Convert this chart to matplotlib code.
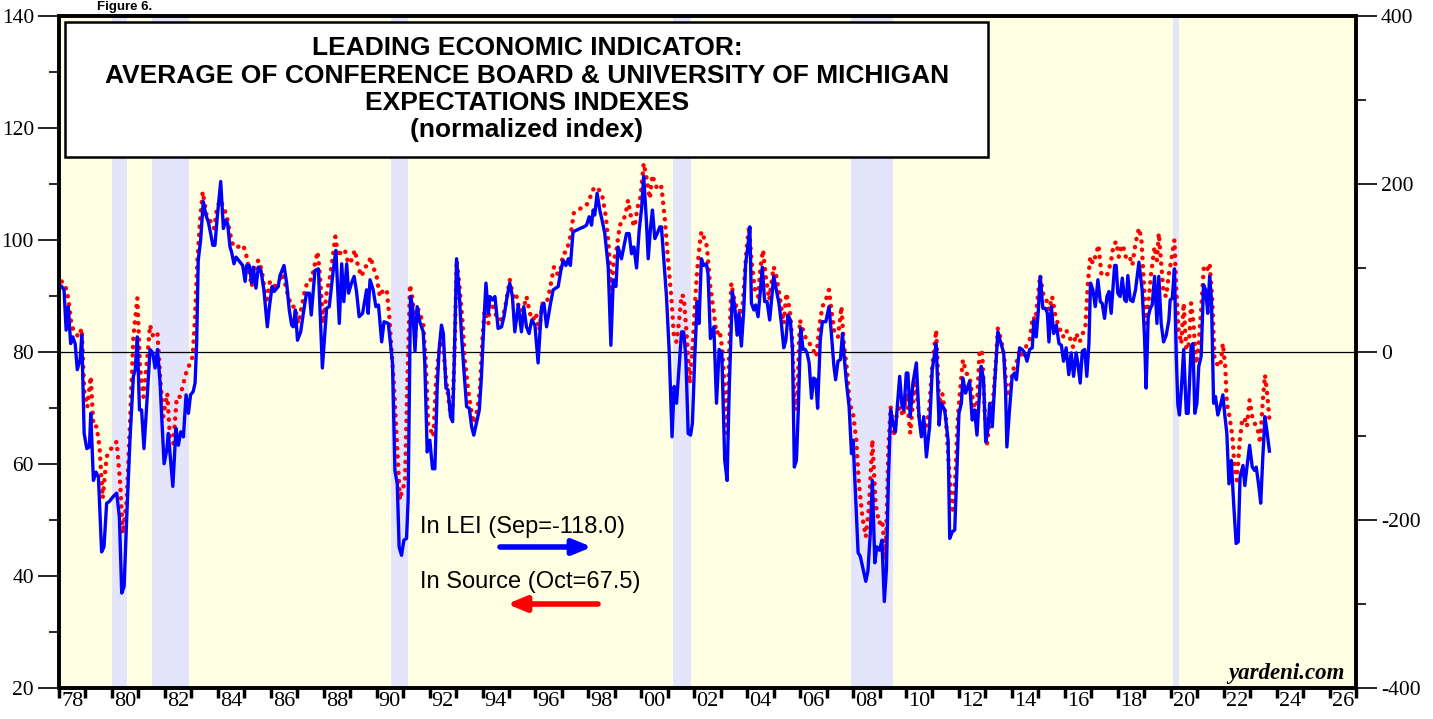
import matplotlib
matplotlib.use("Agg")
import matplotlib.pyplot as plt
from matplotlib.patches import Rectangle
from matplotlib.ticker import FixedLocator, NullFormatter, FixedFormatter, MultipleLocator

plt.rcParams['axes.unicode_minus'] = False

# ---------------- data (decimal years) ----------------
# Source: average of Conference Board & U. Michigan expectations (left axis, normalized index)
red_dates = [1978.1, 1978.23, 1978.35, 1978.48, 1978.57, 1978.73, 1978.86, 1978.95, 1979.07, 1979.2,
             1979.3, 1979.42, 1979.53, 1979.65, 1979.8, 1979.93, 1980.18, 1980.31, 1980.41, 1980.56,
             1980.68, 1980.81, 1980.96, 1981.06, 1981.19, 1981.34, 1981.44, 1981.56, 1981.72, 1981.82,
             1981.94, 1982.09, 1982.19, 1982.32, 1982.45, 1982.57, 1982.67, 1982.8, 1982.95, 1983.05,
             1983.14, 1983.23, 1983.33, 1983.43, 1983.58, 1983.73, 1983.86, 1983.96, 1984.08, 1984.21,
             1984.34, 1984.46, 1984.59, 1984.77, 1984.96, 1985.09, 1985.28, 1985.4, 1985.53, 1985.66,
             1985.84, 1985.97, 1986.1, 1986.22, 1986.41, 1986.54, 1986.66, 1986.79, 1986.91, 1987.04,
             1987.17, 1987.29, 1987.42, 1987.54, 1987.67, 1987.77, 1987.86, 1987.98, 1988.11, 1988.24,
             1988.36, 1988.44, 1988.55, 1988.68, 1988.8, 1988.93, 1989.05, 1989.18, 1989.3, 1989.43,
             1989.56, 1989.68, 1989.77, 1989.87, 1990.0, 1990.12, 1990.25, 1990.38, 1990.48, 1990.56,
             1990.65, 1990.75, 1990.88, 1990.98, 1991.07, 1991.16, 1991.26, 1991.36, 1991.46, 1991.53,
             1991.63, 1991.76, 1991.86, 1991.95, 1992.04, 1992.14, 1992.24, 1992.33, 1992.41, 1992.52,
             1992.64, 1992.77, 1992.87, 1992.96, 1993.02, 1993.12, 1993.25, 1993.33, 1993.46, 1993.59,
             1993.67, 1993.8, 1993.9, 1994.0, 1994.09, 1994.22, 1994.28, 1994.4, 1994.53, 1994.68,
             1994.84, 1995.03, 1995.16, 1995.26, 1995.39, 1995.54, 1995.66, 1995.79, 1995.91, 1996.02,
             1996.14, 1996.27, 1996.42, 1996.54, 1996.7, 1996.82, 1996.92, 1997.05, 1997.17, 1997.32,
             1997.45, 1997.58, 1997.74, 1997.9, 1998.03, 1998.15, 1998.31, 1998.41, 1998.53, 1998.66,
             1998.78, 1998.87, 1998.96, 1999.06, 1999.19, 1999.31, 1999.41, 1999.5, 1999.63, 1999.75,
             1999.85, 1999.97, 2000.09, 2000.19, 2000.32, 2000.42, 2000.51, 2000.63, 2000.76, 2000.89,
             2001.01, 2001.14, 2001.23, 2001.33, 2001.43, 2001.52, 2001.6, 2001.71, 2001.83, 2001.93,
             2002.02, 2002.11, 2002.21, 2002.27, 2002.4, 2002.48, 2002.59, 2002.71, 2002.84, 2002.96,
             2003.06, 2003.15, 2003.24, 2003.32, 2003.4, 2003.49, 2003.59, 2003.69, 2003.78, 2003.87,
             2003.97, 2004.07, 2004.16, 2004.29, 2004.41, 2004.5, 2004.6, 2004.7, 2004.83, 2005.0,
             2005.1, 2005.23, 2005.38, 2005.48, 2005.61, 2005.71, 2005.8, 2005.89, 2005.99, 2006.11,
             2006.24, 2006.36, 2006.49, 2006.61, 2006.74, 2006.84, 2006.97, 2007.09, 2007.18, 2007.3,
             2007.43, 2007.56, 2007.65, 2007.77, 2007.87, 2008.0, 2008.12, 2008.22, 2008.35, 2008.48,
             2008.6, 2008.73, 2008.85, 2008.98, 2009.1, 2009.23, 2009.33, 2009.42, 2009.54, 2009.64,
             2009.76, 2009.89, 2010.01, 2010.16, 2010.26, 2010.36, 2010.49, 2010.62, 2010.74, 2010.87,
             2010.99, 2011.14, 2011.25, 2011.37, 2011.5, 2011.62, 2011.75, 2011.84, 2011.96, 2012.09,
             2012.15, 2012.28, 2012.4, 2012.53, 2012.66, 2012.78, 2012.88, 2012.97, 2013.06, 2013.16,
             2013.28, 2013.39, 2013.47, 2013.6, 2013.72, 2013.81, 2013.91, 2014.04, 2014.17, 2014.29,
             2014.42, 2014.54, 2014.67, 2014.79, 2014.89, 2014.98, 2015.07, 2015.17, 2015.27, 2015.4,
             2015.52, 2015.65, 2015.78, 2015.93, 2016.05, 2016.18, 2016.31, 2016.43, 2016.56, 2016.68,
             2016.78, 2016.87, 2016.96, 2017.06, 2017.19, 2017.27, 2017.38, 2017.5, 2017.63, 2017.75,
             2017.84, 2017.94, 2018.04, 2018.09, 2018.19, 2018.32, 2018.45, 2018.55, 2018.67, 2018.8,
             2018.89, 2018.97, 2019.07, 2019.18, 2019.26, 2019.39, 2019.48, 2019.55, 2019.64, 2019.73,
             2019.83, 2019.93, 2019.98, 2020.14, 2020.21, 2020.3, 2020.4, 2020.49, 2020.59, 2020.69,
             2020.77, 2020.86, 2020.96, 2021.06, 2021.15, 2021.25, 2021.37, 2021.47, 2021.57, 2021.65,
             2021.74, 2021.87, 2021.97, 2022.06, 2022.12, 2022.22, 2022.33, 2022.41, 2022.5, 2022.6,
             2022.7, 2022.79, 2022.88, 2022.98, 2023.08, 2023.17, 2023.29, 2023.38, 2023.48, 2023.56,
             2023.63, 2023.73, 2023.81]
red_values = [92.6, 92.0, 89.6, 84.5, 83.9, 82.7, 84.2, 73.2, 70.2, 75.6,
              66.7, 66.7, 63.1, 53.9, 61.3, 62.5, 64.0, 56.6, 47.6, 53.6,
              67.3, 82.7, 89.6, 77.4, 72.0, 79.2, 84.8, 82.7, 83.3, 75.6,
              68.5, 72.6, 64.9, 63.7, 72.0, 72.0, 73.8, 76.2, 78.0, 79.2,
              86.3, 96.4, 103.6, 108.6, 104.2, 103.3, 102.1, 105.4, 107.1, 106.0,
              104.2, 101.2, 98.8, 98.8, 99.1, 97.0, 91.7, 95.0, 96.4, 94.6,
              88.7, 92.6, 92.3, 91.1, 94.0, 92.3, 89.9, 88.1, 88.1, 85.1,
              88.1, 91.1, 92.9, 92.9, 95.8, 97.9, 93.5, 85.1, 90.5, 93.5,
              97.6, 100.6, 97.0, 98.2, 98.2, 95.8, 96.4, 98.2, 95.2, 93.5,
              95.2, 95.5, 97.0, 95.2, 93.5, 89.9, 91.1, 91.1, 86.3, 80.4,
              74.4, 65.5, 53.6, 55.7, 56.5, 74.4, 92.0, 89.3, 82.7, 88.1,
              86.9, 85.1, 77.9, 66.7, 66.1, 64.9, 74.4, 79.2, 82.1, 80.4,
              74.4, 69.6, 69.6, 82.7, 96.4, 92.3, 85.1, 78.6, 73.2, 69.0,
              67.3, 69.6, 73.2, 82.7, 88.1, 85.1, 88.7, 88.1, 86.3, 85.7,
              87.5, 92.9, 89.9, 90.5, 87.5, 87.5, 89.9, 86.9, 85.7, 86.9,
              83.9, 88.7, 88.7, 91.1, 95.2, 94.0, 94.0, 97.6, 97.9, 100.6,
              104.8, 105.4, 105.7, 106.0, 107.1, 108.9, 109.5, 108.9, 107.7, 104.2,
              98.2, 89.9, 96.4, 98.2, 102.7, 103.3, 104.8, 107.1, 103.6, 102.4,
              105.7, 107.7, 113.7, 111.3, 107.4, 111.6, 110.1, 108.9, 109.5, 103.6,
              96.4, 89.3, 82.7, 81.8, 85.7, 90.2, 89.9, 83.3, 74.4, 80.4,
              88.1, 94.6, 99.4, 101.5, 100.0, 98.8, 92.3, 88.1, 83.3, 83.9,
              80.4, 73.2, 65.5, 79.8, 92.3, 89.9, 88.1, 88.1, 85.1, 91.1,
              98.2, 102.4, 96.4, 91.1, 89.9, 95.2, 98.2, 93.5, 89.3, 95.2,
              93.5, 89.9, 85.1, 90.5, 87.5, 81.5, 69.6, 72.0, 85.7, 83.9,
              82.1, 81.5, 80.4, 79.2, 85.1, 88.1, 89.3, 91.1, 87.5, 83.3,
              82.7, 88.1, 81.5, 76.8, 70.8, 69.0, 64.3, 56.5, 50.6, 47.0,
              52.4, 64.3, 53.0, 49.4, 50.0, 42.9, 62.5, 70.2, 64.9, 68.5,
              70.2, 68.5, 72.6, 65.5, 70.8, 75.0, 68.5, 64.9, 66.1, 69.6,
              77.4, 83.9, 70.8, 72.6, 68.5, 59.5, 51.2, 55.4, 68.5, 75.6,
              78.6, 76.2, 75.6, 71.4, 68.5, 80.4, 79.8, 69.6, 63.7, 67.3,
              70.8, 78.0, 84.2, 82.1, 78.6, 72.0, 73.2, 76.8, 78.0, 80.4,
              78.9, 81.0, 82.1, 86.3, 85.7, 89.9, 93.7, 90.5, 89.9, 87.5,
              89.9, 86.3, 84.5, 82.7, 83.9, 82.7, 80.9, 83.3, 81.8, 83.3,
              84.8, 92.3, 97.0, 95.8, 97.6, 99.1, 94.0, 93.5, 94.0, 96.4,
              99.1, 99.7, 97.0, 98.2, 99.1, 96.7, 97.0, 95.5, 99.4, 102.1,
              100.3, 93.5, 85.1, 89.9, 94.0, 98.8, 96.4, 101.2, 95.8, 90.5,
              89.9, 94.0, 95.2, 100.0, 91.1, 83.9, 81.5, 88.7, 80.4, 81.5,
              88.7, 85.1, 77.9, 81.5, 87.5, 95.2, 94.6, 95.8, 89.3, 79.2,
              77.9, 77.4, 81.5, 77.4, 70.8, 68.5, 64.9, 59.5, 57.1, 63.7,
              67.9, 68.2, 66.7, 71.4, 68.5, 67.3, 66.1, 63.7, 71.4, 75.9,
              73.2, 67.9, 67.5]

# LEI (right axis)
blue_dates = [1978.1, 1978.19, 1978.27, 1978.35, 1978.44, 1978.52, 1978.61, 1978.69, 1978.8, 1978.86,
              1978.95, 1979.05, 1979.15, 1979.2, 1979.3, 1979.4, 1979.49, 1979.61, 1979.7, 1979.8,
              1979.9, 1980.05, 1980.18, 1980.28, 1980.37, 1980.46, 1980.56, 1980.68, 1980.81, 1980.88,
              1980.96, 1981.04, 1981.12, 1981.21, 1981.31, 1981.44, 1981.54, 1981.63, 1981.72, 1981.82,
              1981.88, 1981.97, 1982.07, 1982.13, 1982.3, 1982.42, 1982.51, 1982.6, 1982.7, 1982.8,
              1982.89, 1982.97, 1983.07, 1983.14, 1983.2, 1983.26, 1983.35, 1983.45, 1983.55, 1983.64,
              1983.73, 1983.81, 1983.89, 1983.98, 1984.11, 1984.21, 1984.3, 1984.37, 1984.46, 1984.52,
              1984.61, 1984.69, 1984.84, 1984.94, 1985.03, 1985.09, 1985.19, 1985.28, 1985.34, 1985.44,
              1985.53, 1985.63, 1985.74, 1985.87, 1985.95, 1986.05, 1986.13, 1986.28, 1986.35, 1986.5,
              1986.6, 1986.7, 1986.79, 1986.85, 1986.93, 1987.01, 1987.13, 1987.23, 1987.35, 1987.46,
              1987.53, 1987.67, 1987.8, 1987.95, 1988.11, 1988.21, 1988.36, 1988.46, 1988.59, 1988.68,
              1988.76, 1988.87, 1988.94, 1989.05, 1989.15, 1989.24, 1989.34, 1989.47, 1989.62, 1989.68,
              1989.75, 1989.87, 1989.97, 1990.07, 1990.19, 1990.28, 1990.44, 1990.53, 1990.6, 1990.69,
              1990.78, 1990.85, 1990.94, 1991.03, 1991.13, 1991.19, 1991.28, 1991.36, 1991.45, 1991.53,
              1991.63, 1991.76, 1991.82, 1991.91, 1992.01, 1992.11, 1992.2, 1992.29, 1992.36, 1992.45,
              1992.52, 1992.62, 1992.7, 1992.79, 1992.87, 1992.93, 1993.02, 1993.12, 1993.21, 1993.3,
              1993.4, 1993.5, 1993.59, 1993.67, 1993.77, 1993.88, 1993.96, 1994.05, 1994.13, 1994.22,
              1994.28, 1994.38, 1994.47, 1994.59, 1994.72, 1994.81, 1994.93, 1995.03, 1995.13, 1995.22,
              1995.35, 1995.47, 1995.56, 1995.66, 1995.76, 1995.86, 1995.98, 1996.1, 1996.23, 1996.32,
              1996.42, 1996.57, 1996.67, 1996.86, 1996.96, 1997.05, 1997.15, 1997.24, 1997.32, 1997.42,
              1997.55, 1997.68, 1997.83, 1997.93, 1998.03, 1998.12, 1998.18, 1998.24, 1998.33, 1998.43,
              1998.53, 1998.62, 1998.75, 1998.85, 1998.94, 1999.04, 1999.12, 1999.25, 1999.34, 1999.44,
              1999.54, 1999.63, 1999.72, 1999.82, 1999.92, 2000.01, 2000.09, 2000.19, 2000.26, 2000.35,
              2000.42, 2000.51, 2000.6, 2000.7, 2000.76, 2000.85, 2000.95, 2001.05, 2001.16, 2001.24,
              2001.33, 2001.43, 2001.52, 2001.6, 2001.68, 2001.77, 2001.86, 2001.93, 2002.02, 2002.11,
              2002.18, 2002.27, 2002.36, 2002.46, 2002.52, 2002.61, 2002.74, 2002.84, 2002.94, 2003.04,
              2003.15, 2003.24, 2003.32, 2003.44, 2003.53, 2003.62, 2003.69, 2003.78, 2003.87, 2003.94,
              2004.03, 2004.1, 2004.16, 2004.25, 2004.32, 2004.41, 2004.5, 2004.57, 2004.66, 2004.75,
              2004.85, 2005.0, 2005.1, 2005.2, 2005.29, 2005.38, 2005.46, 2005.54, 2005.63, 2005.71,
              2005.78, 2005.86, 2005.93, 2006.02, 2006.11, 2006.19, 2006.26, 2006.34, 2006.43, 2006.51,
              2006.59, 2006.66, 2006.76, 2006.84, 2006.97, 2007.09, 2007.18, 2007.27, 2007.34, 2007.43,
              2007.52, 2007.6, 2007.65, 2007.75, 2007.85, 2007.94, 2008.0, 2008.1, 2008.19, 2008.27,
              2008.38, 2008.48, 2008.56, 2008.65, 2008.73, 2008.82, 2008.9, 2009.0, 2009.09, 2009.18,
              2009.26, 2009.33, 2009.42, 2009.51, 2009.6, 2009.67, 2009.76, 2009.85, 2009.92, 2010.01,
              2010.07, 2010.16, 2010.26, 2010.39, 2010.49, 2010.58, 2010.67, 2010.77, 2010.89, 2010.99,
              2011.14, 2011.25, 2011.33, 2011.46, 2011.59, 2011.65, 2011.75, 2011.84, 2012.0, 2012.09,
              2012.15, 2012.25, 2012.4, 2012.5, 2012.59, 2012.68, 2012.84, 2012.93, 2013.01, 2013.1,
              2013.16, 2013.26, 2013.35, 2013.47, 2013.57, 2013.69, 2013.76, 2013.81, 2013.91, 2014.01,
              2014.1, 2014.17, 2014.29, 2014.39, 2014.48, 2014.57, 2014.67, 2014.77, 2014.83, 2014.92,
              2015.0, 2015.07, 2015.17, 2015.27, 2015.34, 2015.4, 2015.49, 2015.58, 2015.68, 2015.78,
              2015.87, 2015.95, 2016.05, 2016.15, 2016.24, 2016.33, 2016.43, 2016.49, 2016.58, 2016.66,
              2016.75, 2016.83, 2016.91, 2016.97, 2017.06, 2017.15, 2017.25, 2017.34, 2017.41, 2017.5,
              2017.59, 2017.67, 2017.75, 2017.88, 2017.94, 2018.0, 2018.09, 2018.17, 2018.26, 2018.32,
              2018.38, 2018.47, 2018.57, 2018.67, 2018.8, 2018.92, 2019.01, 2019.07, 2019.15, 2019.23,
              2019.3, 2019.39, 2019.48, 2019.55, 2019.64, 2019.73, 2019.83, 2019.93, 2019.98, 2020.06,
              2020.14, 2020.21, 2020.27, 2020.33, 2020.4, 2020.49, 2020.59, 2020.66, 2020.77, 2020.84,
              2020.91, 2020.99, 2021.06, 2021.15, 2021.24, 2021.32, 2021.4, 2021.47, 2021.54, 2021.62,
              2021.69, 2021.78, 2021.87, 2021.97, 2022.05, 2022.12, 2022.2, 2022.29, 2022.37, 2022.47,
              2022.55, 2022.62, 2022.73, 2022.8, 2022.88, 2022.98, 2023.08, 2023.17, 2023.23, 2023.33,
              2023.4, 2023.48, 2023.56, 2023.63, 2023.73]
blue_values = [78, 74, 26, 54, 10, 18, 10, -21, -9, 20,
               -97, -115, -113, -73, -153, -143, -149, -238, -232, -180,
               -178, -172, -168, -196, -287, -279, -196, -105, -29, -21,
               18, -69, -69, -115, -65, 3, -1, -19, 3, -37,
               -77, -133, -117, -97, -160, -91, -111, -95, -101, -51,
               -73, -51, -47, -37, 10, 109, 133, 179, 163, 155,
               141, 127, 127, 161, 203, 147, 157, 153, 125, 119,
               105, 113, 107, 103, 84, 103, 103, 82, 101, 76,
               101, 97, 74, 30, 54, 78, 72, 78, 91, 103,
               82, 50, 32, 30, 50, 14, 24, 46, 70, 70,
               44, 97, 99, -19, 52, 54, 97, 121, 34, 105,
               60, 105, 70, 82, 90, 72, 42, 46, 74, 46,
               86, 74, 54, 56, 12, 36, 34, 8, -14, -141,
               -157, -232, -242, -224, -222, -176, 66, 54, 1, 54,
               36, 24, -14, -119, -105, -139, -139, -41, 3, 32,
               22, -43, -45, -77, -83, -14, 111, 70, 18, -23,
               -65, -67, -89, -99, -85, -69, -29, 34, 82, 46,
               66, 62, 66, 28, 30, 42, 66, 82, 66, 24,
               56, 24, 54, 30, 22, 38, 32, -13, 54, 58,
               30, 58, 74, 78, 97, 109, 103, 111, 103, 143,
               145, 147, 149, 151, 161, 151, 169, 163, 189, 169,
               155, 141, 101, 8, 86, 78, 125, 111, 125, 141,
               141, 117, 125, 100, 145, 171, 209, 157, 111, 149,
               169, 135, 141, 149, 149, 109, 66, 3, -101, -41,
               -61, -17, 24, 24, -5, -97, -99, -85, -5, 60,
               34, 111, 103, 105, 93, 16, 30, -61, 3, -1,
               -129, -153, -45, 72, 54, 20, 46, 7, 50, 105,
               127, 149, 58, 50, 56, 42, 74, 101, 60, 60,
               38, 90, 74, 58, 34, 5, 14, 44, 38, 3,
               -137, -129, -69, 28, 3, 3, -1, -13, -55, -31,
               -33, -67, 14, 36, 36, 54, 22, -15, -33, -11,
               -9, 22, -1, -37, -65, -121, -105, -176, -239, -243,
               -259, -273, -261, -216, -153, -251, -232, -236, -224, -297,
               -259, -157, -69, -85, -95, -65, -29, -65, -69, -25,
               -25, -77, -37, -13, -77, -101, -77, -125, -89, -21,
               10, -87, -61, -69, -105, -222, -214, -212, -73, -61,
               -31, -49, -35, -81, -69, -99, -17, -33, -107, -91,
               -61, -89, -37, 24, 12, -1, -45, -113, -69, -29,
               -25, -33, 5, 3, -1, -11, 3, 5, 38, 18,
               50, 90, 52, 52, 46, 12, 54, 22, 32, 10,
               8, -11, 5, -27, -1, -29, -1, -13, -37, 1,
               3, -29, 10, 82, 74, 54, 86, 60, 58, 40,
               66, 72, 46, 103, 103, 70, 66, 88, 62, 60,
               91, 62, 60, 74, 107, 74, 18, -43, 42, 52,
               56, 90, 34, 90, 34, 12, 20, 38, 62, 64,
               99, -5, -63, -75, -45, 3, -73, -73, 7, 10,
               -73, -61, -17, -5, 80, 74, 46, 90, 62, -61,
               -53, -75, -65, -51, -77, -97, -157, -129, -176, -228,
               -226, -149, -135, -159, -137, -111, -137, -141, -137, -160,
               -180, -125, -77, -93, -118]

recession_starts = [1980.0, 1981.5, 1990.55, 2001.2, 2007.92, 2020.1]
recession_ends = [1980.58, 1982.9, 1991.2, 2001.88, 2009.5, 2020.33]

year_ticks = list(range(1978, 2028))
label_years = list(range(1978, 2027, 2))
year_labels = ["%02d" % (y % 100) for y in label_years]

title_lines = ["LEADING ECONOMIC INDICATOR:",
               "AVERAGE OF CONFERENCE BOARD & UNIVERSITY OF MICHIGAN",
               "EXPECTATIONS INDEXES",
               "(normalized index)"]

# ---------------- figure ----------------
W, H = 1433, 719
fig = plt.figure(figsize=(W / 100, H / 100), dpi=100)
L, R, T, B = 59, 1356, 16, 688
ax = fig.add_axes([L / W, 1 - B / H, (R - L) / W, (B - T) / H])
ax.set_facecolor('#FFFFE3')
ax.set_xlim(1978, 2027)
ax.set_ylim(20, 140)

for s, e in zip(recession_starts, recession_ends):
    ax.axvspan(s, e, color='#E4E4FA', lw=0, zorder=0.5)

ax.axhline(80, color='black', lw=0.9, zorder=1)

ax.plot(red_dates, red_values, color='#FF0000', lw=3.2,
        linestyle=(0, (0.05, 1.8)), dash_capstyle='round', zorder=2)

ax2 = ax.twinx()
ax2.set_ylim(-400, 400)
ax2.plot(blue_dates, blue_values, color='#0000FF', lw=2.4, zorder=3)

serif = 'Liberation Serif'
sans = 'Liberation Sans'

# x ticks
ax.xaxis.set_major_locator(FixedLocator(year_ticks))
ax.xaxis.set_major_formatter(NullFormatter())
ax.xaxis.set_minor_locator(FixedLocator([y + 0.5 for y in label_years]))
ax.xaxis.set_minor_formatter(FixedFormatter(year_labels))
ax.tick_params(axis='x', which='major', direction='out', length=7, width=2.5, color='black')
ax.tick_params(axis='x', which='minor', length=0, pad=3, labelsize=16)
for lab in ax.get_xticklabels(minor=True):
    lab.set_fontfamily(serif)

# left y
ax.yaxis.set_major_locator(MultipleLocator(20))
ax.yaxis.set_minor_locator(MultipleLocator(10))
ax.tick_params(axis='y', which='major', direction='out', length=15, width=1.2, labelsize=15.5, pad=3)
ax.tick_params(axis='y', which='minor', direction='out', length=7, width=1.2)
for lab in ax.get_yticklabels():
    lab.set_fontfamily(serif)

# right y
ax2.yaxis.set_major_locator(MultipleLocator(200))
ax2.yaxis.set_minor_locator(MultipleLocator(100))
ax2.tick_params(axis='y', which='major', direction='out', length=15, width=1.2, labelsize=15.5, pad=3)
ax2.tick_params(axis='y', which='minor', direction='out', length=7, width=1.2)
for lab in ax2.get_yticklabels():
    lab.set_fontfamily(serif)

for a in (ax, ax2):
    for sp in a.spines.values():
        sp.set_linewidth(2.6)
        sp.set_color('black')

# title box
def fx(px):
    return (px - L) / (R - L)

def fy(py):
    return (B - py) / (B - T)

ax2.add_patch(Rectangle((fx(65), fy(157)), fx(988) - fx(65), fy(22) - fy(157),
                        transform=ax2.transAxes, facecolor='white', edgecolor='black',
                        lw=1.8, zorder=10))
for line, py in zip(title_lines, [48, 76, 103, 130]):
    ax2.text(fx(527), fy(py), line, transform=ax2.transAxes, ha='center', va='center',
             fontsize=19, fontweight='bold', family=sans, zorder=11)

# legend-like annotations
ax2.text(fx(420), fy(527), 'In LEI (Sep=-118.0)', transform=ax2.transAxes, ha='left',
         va='center', fontsize=17, family=sans, zorder=11)
ax2.text(fx(420), fy(582), 'In Source (Oct=67.5)', transform=ax2.transAxes, ha='left',
         va='center', fontsize=17, family=sans, zorder=11)
ax2.annotate('', xy=(fx(592), fy(547)), xytext=(fx(500), fy(547)),
             xycoords=ax2.transAxes, textcoords=ax2.transAxes,
             arrowprops=dict(arrowstyle='-|>,head_length=1.1,head_width=0.45', lw=4,
                             color='#0000FF', shrinkA=0, shrinkB=0), zorder=11)
ax2.annotate('', xy=(fx(507), fy(604)), xytext=(fx(598), fy(604)),
             xycoords=ax2.transAxes, textcoords=ax2.transAxes,
             arrowprops=dict(arrowstyle='-|>,head_length=1.1,head_width=0.45', lw=4,
                             color='#FF0000', shrinkA=0, shrinkB=0), zorder=11)

ax2.text(fx(1345), fy(673), 'yardeni.com', transform=ax2.transAxes, ha='right', va='center',
         fontsize=16.5, fontweight='bold', fontstyle='italic', family=serif, zorder=11)

fig.text(97 / W, 1 - 1 / H, 'Figure 6.', fontsize=9.5, fontweight='bold', family=sans,
         ha='left', va='top')

fig.savefig('out.png', dpi=100)
